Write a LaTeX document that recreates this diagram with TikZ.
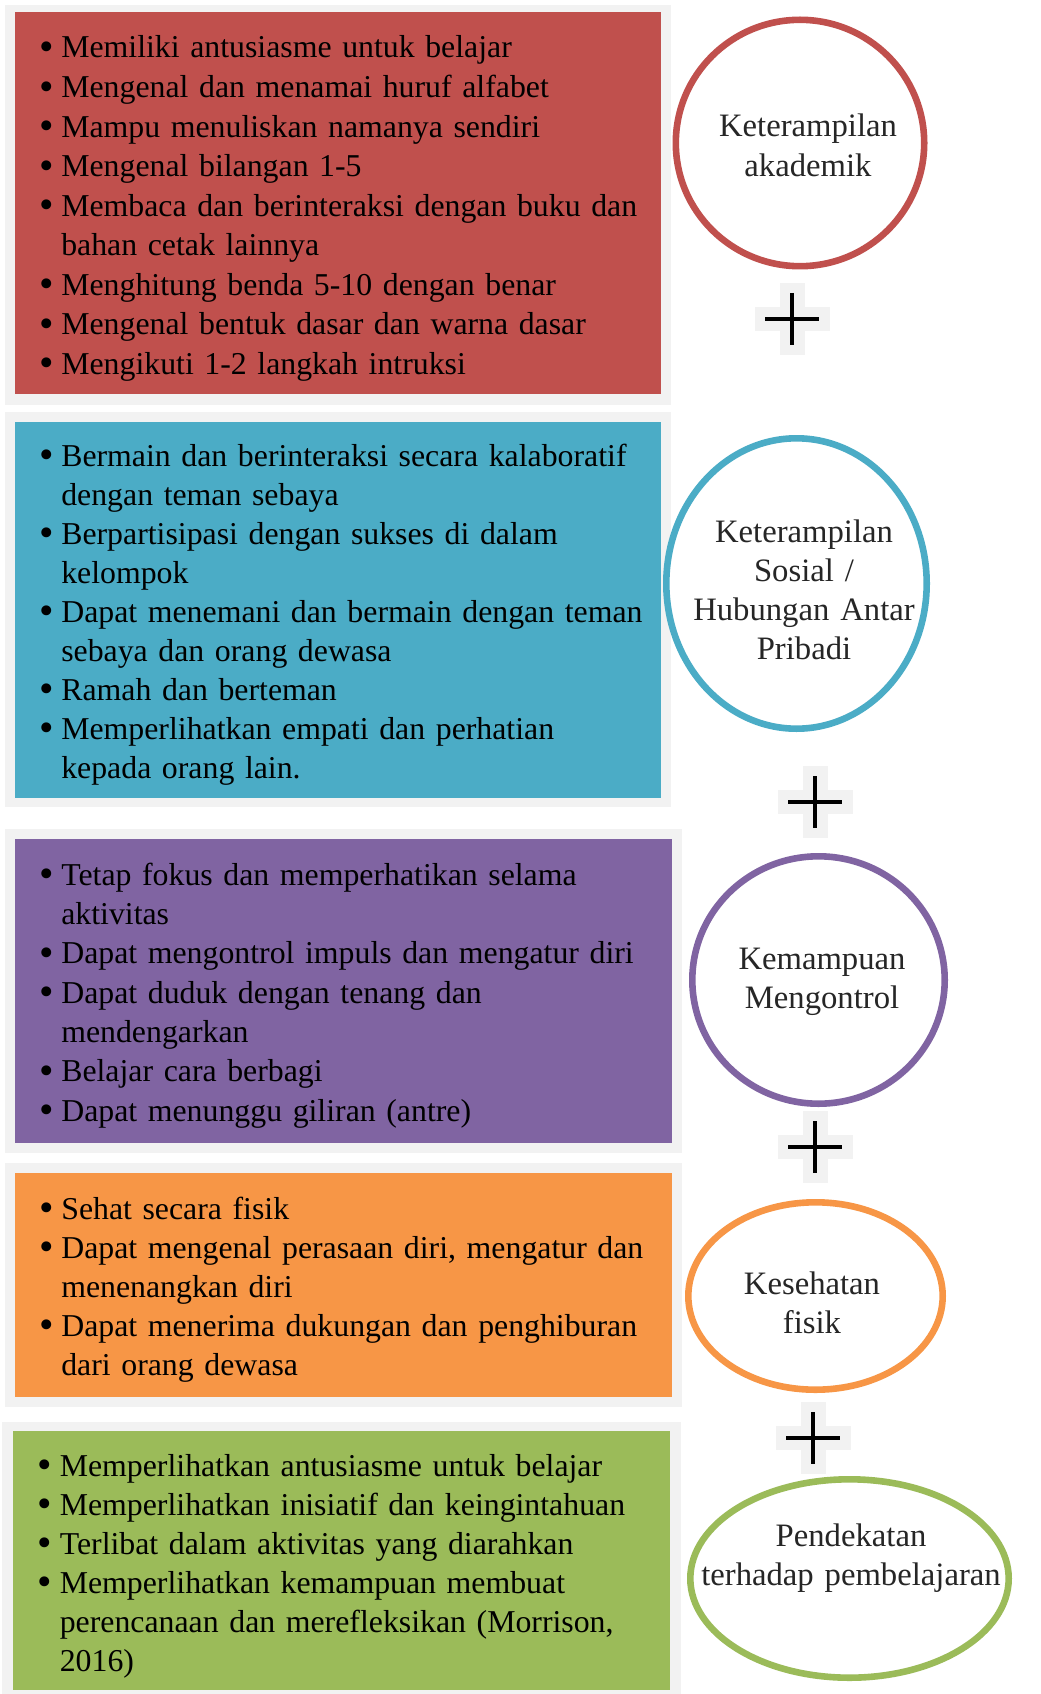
\documentclass[tikz,border=0pt]{standalone}
\usepackage{fontspec}
\usepackage{graphicx}
\setmainfont{Liberation Serif}
\usetikzlibrary{shapes.geometric}

\definecolor{akadred}{HTML}{C0504D}
\definecolor{sosblue}{HTML}{4BACC6}
\definecolor{ctrlpurple}{HTML}{8064A2}
\definecolor{fisorange}{HTML}{F79646}
\definecolor{ajargreen}{HTML}{9BBB59}
\definecolor{framegray}{HTML}{F2F2F2}
\definecolor{inkgray}{HTML}{262626}

\newdimen\pxunit \pxunit=0.2mm
\newcommand{\bitem}{\makebox[12.5pt][l]{\raisebox{-1.5pt}{\scalebox{1.3}{\textbullet}}}}
\newcommand{\bcont}{\hspace*{12.5pt}}

\begin{document}
\begin{tikzpicture}[x=0.2mm,y=-0.2mm,
  frame/.style={fill=framegray},
  itemlist/.style={anchor=base west,inner sep=0pt,text width=360pt,align=left,
    font=\fontsize{18.1}{#1}\selectfont,text=black},
  itemlist/.default=22.2pt,
  ring/.style={ellipse,draw=#1,line width=6.6\pxunit,fill=white,inner sep=0pt},
  ringtext/.style={anchor=base,inner sep=0pt,text width=190pt,align=center,
    font=\fontsize{18.6}{22.2}\selectfont,text=inkgray},
  plusbg/.style={fill=framegray},
  plusbar/.style={line width=4\pxunit,black}]
\useasboundingbox (0,0) rectangle (1040,1694);

% Drawing box of keterampilan akademik
\fill[frame] (4.5,5) rectangle (671,405);
\fill[akadred] (15,12) rectangle (661,394);
\node[itemlist=22.5pt] (akadlist) at (39,58) {%
\bitem Memiliki antusiasme untuk belajar\\
\bitem Mengenal dan menamai huruf alfabet\\
\bitem Mampu menuliskan namanya sendiri\\
\bitem Mengenal bilangan 1-5\\
\bitem Membaca dan berinteraksi dengan buku dan\\
\bcont bahan cetak lainnya\\
\bitem Menghitung benda 5-10 dengan benar\\
\bitem Mengenal bentuk dasar dan warna dasar\\
\bitem Mengikuti 1-2 langkah intruksi};

% Drawing box of keterampilan sosial
\fill[frame] (4.5,412) rectangle (671,807);
\fill[sosblue] (15,422) rectangle (661,798);
\node[itemlist=22.2pt] (sosiallist) at (39,466) {%
\bitem Bermain dan berinteraksi secara kalaboratif\\
\bcont dengan teman sebaya\\
\bitem Berpartisipasi dengan sukses di dalam\\
\bcont kelompok\\
\bitem Dapat menemani dan bermain dengan teman\\
\bcont sebaya dan orang dewasa\\
\bitem Ramah dan berteman\\
\bitem Memperlihatkan empati dan perhatian\\
\bcont kepada orang lain.};

% Drawing box of kemampuan mengontrol
\fill[frame] (4.5,829) rectangle (682,1153);
\fill[ctrlpurple] (15,839) rectangle (672,1143);
\node[itemlist=22.4pt] (kontrollist) at (39,885) {%
\bitem Tetap fokus dan memperhatikan selama\\
\bcont aktivitas\\
\bitem Dapat mengontrol impuls dan mengatur diri\\
\bitem Dapat duduk dengan tenang dan\\
\bcont mendengarkan\\
\bitem Belajar cara berbagi\\
\bitem Dapat menunggu giliran (antre)};

% Drawing box of kesehatan fisik
\fill[frame] (4.5,1163) rectangle (682,1407);
\fill[fisorange] (15,1173) rectangle (672,1397);
\node[itemlist=22.2pt] (fisiklist) at (39,1219) {%
\bitem Sehat secara fisik\\
\bitem Dapat mengenal perasaan diri, mengatur dan\\
\bcont menenangkan diri\\
\bitem Dapat menerima dukungan dan penghiburan\\
\bcont dari orang dewasa};

% Drawing box of pendekatan terhadap pembelajaran
\fill[frame] (2,1422) rectangle (681,1694);
\fill[ajargreen] (12.5,1431) rectangle (670,1690);
\node[itemlist=22.2pt] (ajarlist) at (37.5,1476) {%
\bitem Memperlihatkan antusiasme untuk belajar\\
\bitem Memperlihatkan inisiatif dan keingintahuan\\
\bitem Terlibat dalam aktivitas yang diarahkan\\
\bitem Memperlihatkan kemampuan membuat\\
\bcont perencanaan dan merefleksikan (Morrison,\\
\bcont 2016)};

% Marking the rings on the right
\node[ring=akadred,minimum width=248.4\pxunit,minimum height=246.4\pxunit] (akad) at (800,143) {};
\node[ring=sosblue,minimum width=260.4\pxunit,minimum height=290.4\pxunit] (sosial) at (796.5,583.5) {};
\node[ring=ctrlpurple,minimum width=252.4\pxunit,minimum height=247.4\pxunit] (kontrol) at (818.5,980) {};
\node[ring=fisorange,minimum width=254.4\pxunit,minimum height=187.4\pxunit] (fisik) at (815.5,1296) {};
\node[ring=ajargreen,minimum width=318.4\pxunit,minimum height=198.4\pxunit] (ajar) at (849.5,1578.5) {};

% Marking the ring labels
\node[ringtext] (akadtext) at (808,137) {Keterampilan\\akademik};
\node[ringtext] (sosialtext) at (804,542) {Keterampilan\\Sosial /\\Hubungan Antar\\Pribadi};
\node[ringtext] (kontroltext) at (822,969) {Kemampuan\\Mengontrol};
\node[ringtext] (fisiktext) at (812,1294) {Kesehatan\\fisik};
\node[ringtext] (ajartext) at (851,1546) {Pendekatan\\terhadap pembelajaran};

% Drawing the plus signs between the rings
\foreach \pname/\cx/\cy in {plusA/792/319, plusB/815/802, plusC/815/1147, plusD/813/1438} {
  \coordinate (\pname) at (\cx,\cy);
  \fill[plusbg] (\cx-37.5,\cy-12) rectangle (\cx+37.5,\cy+12);
  \fill[plusbg] (\cx-12.5,\cy-36) rectangle (\cx+12.5,\cy+36);
  \draw[plusbar] (\cx-27,\cy) -- (\cx+27,\cy) (\cx,\cy-26) -- (\cx,\cy+26);
}
\end{tikzpicture}
\end{document}
